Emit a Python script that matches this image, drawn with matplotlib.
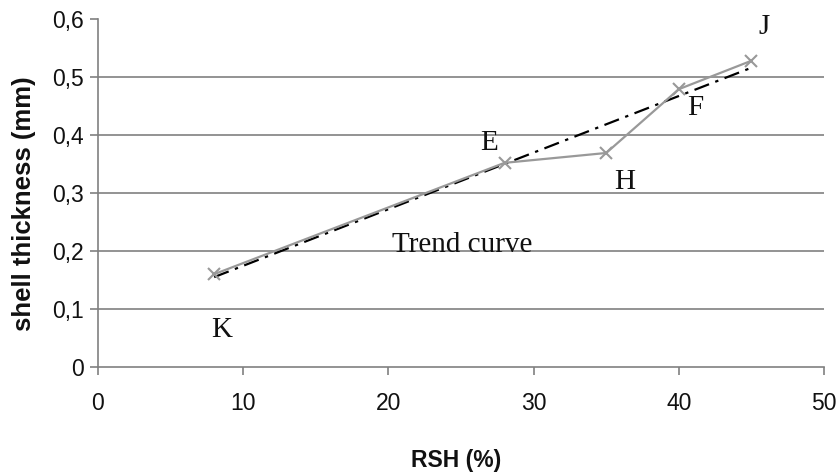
import matplotlib
matplotlib.use("Agg")
import matplotlib.pyplot as plt
from matplotlib.ticker import FuncFormatter

# data
rsh = [8, 28, 35, 40, 45]
thickness = [0.16, 0.352, 0.369, 0.479, 0.528]
point_names = ["K", "E", "H", "F", "J"]
label_x = [8.5, 26.9, 36.3, 41.1, 45.9]
label_y = [0.064, 0.386, 0.319, 0.447, 0.586]
trend_x = [8, 45]
trend_y = [0.155, 0.516]
trend_text = "Trend curve"
trend_text_pos = (25.1, 0.21)
x_ticks = [0, 10, 20, 30, 40, 50]
y_ticks = [0, 0.1, 0.2, 0.3, 0.4, 0.5, 0.6]

fig = plt.figure(figsize=(8.39, 4.72), dpi=100)
ax = fig.add_axes([98/839, 1-367/472, 726/839, 348/472])

grid_c = "#808080"
for yv in y_ticks[1:-1]:
    ax.axhline(yv, color=grid_c, lw=1.2, zorder=1)

ax.plot(trend_x, trend_y, color="black", lw=1.6, dashes=(7, 3, 1.5, 3), zorder=3)
ax.plot(rsh, thickness, color="#999999", lw=1.6, marker="x", markersize=8,
        markeredgewidth=1.5, zorder=4)

serif = ["Liberation Serif", "DejaVu Serif"]
for n, lx, ly in zip(point_names, label_x, label_y):
    ax.text(lx, ly, n, fontsize=21, family=serif, ha="center", va="center", color="#111111")
ax.text(trend_text_pos[0], trend_text_pos[1], trend_text, fontsize=21, family=serif,
        ha="center", va="center", color="#111111")

ax.set_xlim(0, 50)
ax.set_ylim(0, 0.6)
ax.set_xticks(x_ticks)
ax.set_yticks(y_ticks)
ax.yaxis.set_major_formatter(FuncFormatter(lambda v, p: "0" if v == 0 else f"{v:.1f}".replace(".", ",")))

for s in ["top", "right"]:
    ax.spines[s].set_visible(False)
for s in ["left", "bottom"]:
    ax.spines[s].set_color(grid_c)
    ax.spines[s].set_linewidth(1.2)

sans = ["Liberation Sans", "DejaVu Sans"]
ax.tick_params(axis="both", direction="out", colors=grid_c, length=6, width=1.2,
               labelsize=16.5, labelcolor="#111111")
ax.tick_params(axis="x", pad=12)
ax.tick_params(axis="y", pad=4)
for lab in ax.get_xticklabels() + ax.get_yticklabels():
    lab.set_family(sans)

fig.text(24/839, 1-204/472, "shell thickness (mm)", rotation=90, ha="center", va="center",
         fontsize=18.5, fontweight="bold", family=sans, color="#111111")
fig.text(456/839, 1-461/472, "RSH (%)", ha="center", va="center",
         fontsize=16.5, fontweight="bold", family=sans, color="#111111")

fig.savefig("out.png", dpi=100)
